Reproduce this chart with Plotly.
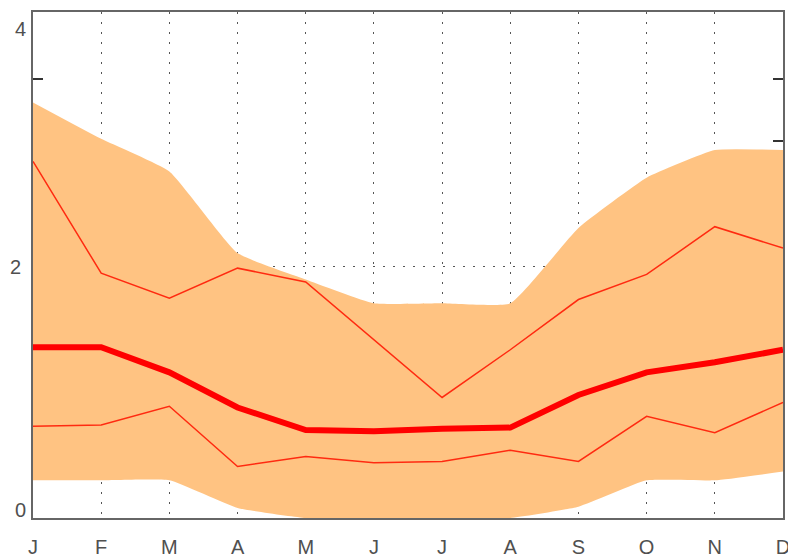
import plotly.graph_objects as go

months = ['J', 'F', 'M', 'A', 'M', 'J', 'J', 'A', 'S', 'O', 'N', 'D']
band_hi = [3.31, 3.02, 2.76, 2.11, 1.90, 1.71, 1.71, 1.71, 2.31, 2.71, 2.93, 2.93]
band_lo = [0.30, 0.30, 0.30, 0.08, 0.00, 0.00, 0.00, 0.00, 0.09, 0.30, 0.30, 0.37]
median = [1.36, 1.36, 1.16, 0.88, 0.70, 0.69, 0.71, 0.72, 0.98, 1.16, 1.24, 1.34]
upper = [2.84, 1.95, 1.75, 1.99, 1.88, 1.42, 0.96, 1.34, 1.74, 1.94, 2.32, 2.15]
lower = [0.73, 0.74, 0.89, 0.41, 0.49, 0.44, 0.45, 0.54, 0.45, 0.81, 0.68, 0.92]

x = list(range(len(months)))

fig = go.Figure()

# shaded range
fig.add_trace(go.Scatter(x=x, y=band_lo, mode='lines', line=dict(width=0, shape='spline', smoothing=0.4),
                         showlegend=False, hoverinfo='skip'))
fig.add_trace(go.Scatter(x=x, y=band_hi, mode='lines', line=dict(width=0, shape='spline', smoothing=0.4),
                         fill='tonexty', fillcolor='#ffc382', showlegend=False, hoverinfo='skip'))

fig.add_trace(go.Scatter(x=x, y=upper, mode='lines', line=dict(color='#ff2a10', width=1.5), showlegend=False))
fig.add_trace(go.Scatter(x=x, y=lower, mode='lines', line=dict(color='#ff2a10', width=1.5), showlegend=False))
fig.add_trace(go.Scatter(x=x, y=median, mode='lines', line=dict(color='#ff0000', width=6), showlegend=False))

# page body has an 8px margin, so the figure is a bit smaller than the window
fig.update_layout(
    width=788, height=551,
    margin=dict(l=25, r=13, t=4, b=41),
    paper_bgcolor='white', plot_bgcolor='white',
    font=dict(family='Liberation Sans, Arial, sans-serif', size=20, color='#505050'),
)

# end labels sit slightly inside the axis, like the original
for val, shift in [(0, 8), (4, -13)]:
    fig.add_annotation(x=0, xref='paper', xanchor='right', xshift=-5,
                       y=val, yref='y', yanchor='middle', yshift=shift,
                       text=str(val), showarrow=False,
                       font=dict(size=20, color='#505050'))

fig.update_xaxes(
    range=[0, 11], tickvals=x, ticktext=months, automargin=False,
    showgrid=True, gridcolor='#555555', gridwidth=1, griddash='2px,8px',
    showline=True, linecolor='#666666', linewidth=2, mirror=True,
    ticks='', zeroline=False, layer='below traces', ticklabelstandoff=10,
)
fig.update_yaxes(
    range=[0, 4.03], tickvals=[0, 2], ticktext=['', '2'], automargin=False,
    showgrid=True, gridcolor='#555555', gridwidth=1, griddash='2px,8px',
    showline=True, linecolor='#666666', linewidth=2, mirror='allticks',
    ticks='inside', ticklen=10, tickcolor='#333333', tickwidth=2,
    minor=dict(tickvals=[0.5, 1, 1.5, 2.5, 3, 3.5], ticks='inside', ticklen=10,
               tickcolor='#333333', tickwidth=2, showgrid=False),
    zeroline=False, layer='below traces', ticklabelstandoff=6,
)

fig.write_html("out.html")
